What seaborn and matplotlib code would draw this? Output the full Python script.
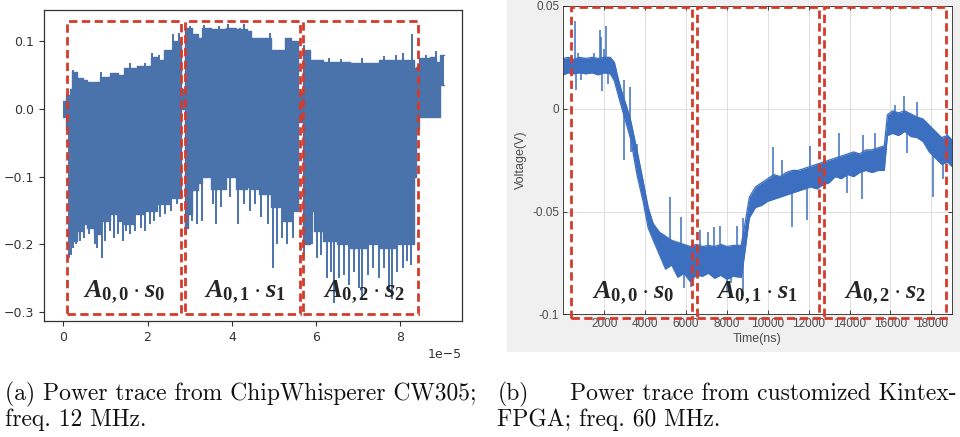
#!/usr/bin/env python3
"""
Two power traces with the three A_{0,j} * s_j regions marked
"""

import matplotlib
matplotlib.use("Agg")
import matplotlib.pyplot as plt
from matplotlib.patches import Rectangle
import seaborn as sns
import numpy as np

# ---- (a) ChipWhisperer CW305 trace, time in units of 1e-5 s ----
# envelope of the dense trace (step-wise)
a_t = [0.00, 0.06, 0.15, 0.20, 0.32, 0.48, 0.56, 0.72, 0.88, 1.12, 1.30, 1.44, 1.67,
       1.75, 1.91, 2.07, 2.22, 2.39, 2.54, 2.62, 2.79, 2.89, 2.95, 3.06, 3.20, 3.30,
       3.50, 3.85, 4.10, 4.35, 4.45, 4.65, 4.93, 5.20, 5.25, 5.40, 5.58, 5.68, 5.85,
       5.95, 6.17, 6.50, 6.80, 7.20, 7.50, 7.90, 8.20, 8.32, 8.38, 8.44, 8.70, 8.85,
       8.95, 9.03]
a_lo = [-0.012, -0.030, -0.190, -0.195, -0.180, -0.170, -0.175, -0.185, -0.165, -0.155,
        -0.165, -0.170, -0.155, -0.155, -0.150, -0.150, -0.140, -0.140, -0.132, -0.132,
        0.000, -0.175, -0.155, -0.120, -0.110, -0.100, -0.118, -0.100, -0.118, -0.115,
        -0.118, -0.125, -0.145, -0.165, -0.165, -0.150, -0.020, -0.200, -0.150, -0.180,
        -0.195, -0.200, -0.205, -0.200, -0.205, -0.200, -0.200, -0.100, -0.030, -0.012,
        -0.012, -0.012, 0.035, 0.035]
a_hi = [0.012, 0.020, 0.030, 0.055, 0.045, 0.043, 0.040, 0.040, 0.047, 0.053, 0.050,
        0.060, 0.060, 0.063, 0.063, 0.077, 0.072, 0.087, 0.087, 0.100, 0.030, 0.119,
        0.119, 0.110, 0.104, 0.120, 0.118, 0.120, 0.118, 0.115, 0.105, 0.105, 0.087,
        0.087, 0.104, 0.100, 0.025, 0.087, 0.072, 0.072, 0.070, 0.070, 0.068, 0.068,
        0.072, 0.072, 0.072, 0.060, 0.062, 0.075, 0.077, 0.070, 0.080, 0.080]
# isolated spikes poking out of the envelope
a_spike_t = [0.14, 0.18, 0.22, 0.30, 0.40, 0.50, 0.62, 0.75, 0.80, 0.92, 1.00, 1.10,
             1.20, 1.30, 1.42, 1.50, 1.58, 1.70, 1.85, 1.95, 2.05, 2.15, 2.30, 2.42,
             2.55, 2.70,
             2.92, 3.05, 3.18, 3.28, 3.55, 3.62, 3.75, 3.95, 4.15, 4.30, 4.42, 4.55,
             4.70, 4.85, 4.97, 5.08, 5.20, 5.30, 5.45,
             5.72, 5.90, 6.02, 6.12, 6.25, 6.35, 6.42, 6.55, 6.65, 6.78, 6.90, 7.02,
             7.10, 7.22, 7.35, 7.48, 7.62, 7.72, 7.80, 7.92, 8.05, 8.15, 8.25,
             0.22, 0.90, 1.58, 1.95, 2.10, 2.28, 2.60, 2.75, 3.00, 3.35, 3.70, 3.90,
             4.20, 4.30, 4.90, 5.40, 5.72, 6.30, 6.60, 7.10, 7.60, 7.90, 8.05, 8.28,
             8.60, 8.85]
a_spike_v = [-0.220, -0.215, -0.205, -0.200, -0.195, -0.190, -0.185, -0.200, -0.205,
             -0.220, -0.195, -0.180, -0.190, -0.185, -0.195, -0.180, -0.185, -0.180,
             -0.175, -0.180, -0.170, -0.165, -0.160, -0.155, -0.150, -0.140,
             -0.185, -0.165, -0.170, -0.165, -0.140, -0.170, -0.145, -0.130, -0.170,
             -0.140, -0.150, -0.140, -0.160, -0.170, -0.235, -0.200, -0.190, -0.200,
             -0.190,
             -0.215, -0.200, -0.220, -0.215, -0.250, -0.240, -0.287, -0.250, -0.245,
             -0.260, -0.240, -0.265, -0.280, -0.245, -0.235, -0.250, -0.235, -0.270,
             -0.280, -0.240, -0.235, -0.225, -0.230,
             0.058, 0.055, 0.068, 0.068, 0.083, 0.080, 0.110, 0.112, 0.123, 0.124,
             0.122, 0.125, 0.120, 0.125, 0.112, 0.105, 0.095, 0.075, 0.074, 0.075,
             0.078, 0.080, 0.082, 0.110, 0.080, 0.085]
a_regions = [(0.08, 2.79), (2.89, 5.62), (5.68, 8.42)]   # x range, 1e-5 s
a_box_y = (-0.303, 0.130)

# ---- (b) Kintex FPGA trace, time in ns, voltage in V ----
b_t = [0, 250, 500, 800, 1100, 1400, 1700, 2000, 2300, 2500, 2700, 2900, 3100, 3300,
       3600, 3900, 4150, 4400, 4700, 5000, 5300, 5600, 5900, 6200, 6500, 6800, 7100,
       7400, 7700, 8000, 8300, 8700, 8850, 9100, 9400, 9700, 10000, 10300, 10600,
       10900, 11200, 11500, 11800, 12100, 12400, 12700, 13000, 13300, 13600, 13900,
       14200, 14500, 14800, 15100, 15400, 15700, 15850, 16100, 16400, 16700, 17000,
       17300, 17600, 17900, 18200, 18500, 18800, 19000]
b_lo = [0.0165, 0.0175, 0.0170, 0.0175, 0.0170, 0.0175, 0.0165, 0.0175, 0.0170, 0.0135,
        0.0060, -0.0010, -0.0080, -0.0150, -0.0320, -0.0450, -0.0580, -0.0640, -0.0710,
        -0.0780, -0.0760, -0.0820, -0.0800, -0.0840, -0.0810, -0.0815, -0.0800, -0.0825,
        -0.0810, -0.0830, -0.0815, -0.0820, -0.0720, -0.0530, -0.0480, -0.0470, -0.0450,
        -0.0440, -0.0430, -0.0420, -0.0410, -0.0400, -0.0390, -0.0380, -0.0390, -0.0370,
        -0.0360, -0.0330, -0.0340, -0.0320, -0.0330, -0.0310, -0.0300, -0.0310, -0.0300,
        -0.0300, -0.0130, -0.0120, -0.0130, -0.0110, -0.0135, -0.0140, -0.0160, -0.0210,
        -0.0240, -0.0270, -0.0260, -0.0280]
b_hi = [0.0245, 0.0250, 0.0240, 0.0250, 0.0245, 0.0250, 0.0245, 0.0250, 0.0250, 0.0225,
        0.0140, 0.0070, 0.0010, -0.0060, -0.0200, -0.0350, -0.0480, -0.0560, -0.0600,
        -0.0620, -0.0640, -0.0650, -0.0660, -0.0670, -0.0660, -0.0670, -0.0665, -0.0670,
        -0.0660, -0.0670, -0.0665, -0.0665, -0.0580, -0.0430, -0.0380, -0.0360, -0.0340,
        -0.0320, -0.0330, -0.0310, -0.0300, -0.0300, -0.0290, -0.0280, -0.0270, -0.0260,
        -0.0250, -0.0240, -0.0230, -0.0220, -0.0210, -0.0220, -0.0200, -0.0200, -0.0190,
        -0.0180, -0.0030, -0.0010, -0.0020, -0.0010, -0.0025, -0.0040, -0.0050, -0.0080,
        -0.0110, -0.0140, -0.0130, -0.0150]
b_spike_t = [584, 600, 700, 850, 1500, 1780, 1830, 1880, 2000, 2100, 2200, 2950, 2980,
             3270, 3300, 3600, 5223, 5767, 5900, 6250, 6700, 7100, 7350, 7650, 8000,
             8200, 8480, 8780, 8800, 10250, 10700, 11200, 11900, 12050, 13500, 13900,
             14600, 14650, 15250, 16200, 16650, 16800, 17300, 18100, 18580, 18750]
b_spike_base = [0.021, 0.021, 0.021, 0.021, 0.021, 0.021, 0.021, 0.021, 0.021, 0.021,
                0.021, 0.003, 0.003, -0.010, -0.010, -0.026, -0.071, -0.073, -0.073,
                -0.075, -0.074, -0.074, -0.074, -0.074, -0.074, -0.074, -0.074, -0.074,
                -0.074, -0.038, -0.037, -0.036, -0.034, -0.033, -0.029, -0.027, -0.025,
                -0.025, -0.025, -0.007, -0.007, -0.007, -0.009, -0.015, -0.020, -0.020]
b_spike_tip = [0.0427, 0.009, 0.027, 0.014, 0.027, 0.0383, 0.035, 0.0085, 0.029, 0.0405,
               0.012, 0.014, -0.025, 0.0106, -0.021, -0.017, -0.0428, -0.0525, -0.087,
               -0.0866, -0.059, -0.060, -0.0575, -0.057, -0.089, -0.085, -0.057, -0.091,
               -0.053, -0.0185, -0.025, -0.0574, -0.054, -0.018, -0.012, -0.041, -0.044,
               -0.013, -0.012, 0.002, 0.006, -0.0216, 0.0035, -0.0428, -0.034, -0.010]
b_regions = [(374, 6312), (6556, 12513), (12757, 18734)]
b_box_y = (-0.1018, 0.0497)

labels = [r'$A_{0,0}\cdot s_0$', r'$A_{0,1}\cdot s_1$', r'$A_{0,2}\cdot s_2$']
a_label_x = [1.44, 4.31, 7.13]
b_label_x = [3392, 9457, 15707]

BLUE_A = '#4a72ab'
BLUE_B = '#3d6fc0'
RED = '#d23c2c'

sns.set_theme(style='white')
plt.rcParams['font.family'] = ['DejaVu Sans']
plt.rcParams['mathtext.fontset'] = 'custom'
plt.rcParams['mathtext.it'] = 'Liberation Serif:italic:bold'
plt.rcParams['mathtext.rm'] = 'Liberation Serif:bold'
plt.rcParams['mathtext.bf'] = 'Liberation Serif:bold'

fig = plt.figure(figsize=(9.6, 4.37), dpi=100)
fig.patch.set_facecolor('white')
fig.patches.append(Rectangle((0.5278, 0.1952), 0.4722, 0.8048, transform=fig.transFigure,
                             facecolor='#f0f0f0', edgecolor='none', zorder=-5))

# ---------------- panel (a) ----------------
ax = fig.add_axes([0.0458, 0.2654, 0.4354, 0.7117])
ta = np.array(a_t) * 1e-5
ax.fill_between(ta, a_lo, a_hi, step='post', color=BLUE_A, lw=0)
sns.lineplot(x=ta, y=a_hi, drawstyle='steps-post', color=BLUE_A, lw=1,
             estimator=None, sort=False, ax=ax)
sns.lineplot(x=ta, y=a_lo, drawstyle='steps-post', color=BLUE_A, lw=1,
             estimator=None, sort=False, ax=ax)
ax.vlines(np.array(a_spike_t) * 1e-5, 0, a_spike_v, color=BLUE_A, lw=1.4)

for (x0, x1), lab, lx in zip(a_regions, labels, a_label_x):
    ax.add_patch(Rectangle((x0 * 1e-5, a_box_y[0]), (x1 - x0) * 1e-5, a_box_y[1] - a_box_y[0],
                           fill=False, ls=(0, (3, 1.6)), ec=RED, lw=2, zorder=5))
    ax.text(lx * 1e-5, -0.27, lab, ha='center', va='center', fontsize=19, zorder=6)

ax.set_xlim(-0.458e-5, 9.46e-5)
ax.set_ylim(-0.313, 0.146)
ax.set_xticks(np.array([0, 2, 4, 6, 8]) * 1e-5)
ax.set_yticks([-0.3, -0.2, -0.1, 0.0, 0.1])
for s in ax.spines.values():
    s.set_visible(True)
    s.set_color('#333333')
    s.set_linewidth(0.9)
ax.tick_params(direction='out', length=3.5, width=0.8, colors='#333333',
               labelsize=9, bottom=True, left=True)
ax.xaxis.get_offset_text().set_fontsize(9)
ax.xaxis.get_offset_text().set_color('#333333')

# ---------------- panel (b) ----------------
bx = fig.add_axes([0.5868, 0.2808, 0.4046, 0.7055])
bx.set_facecolor('white')
bx.set_axisbelow(True)
bx.grid(True, color='#dedede', lw=0.7)
bx.fill_between(b_t, b_lo, b_hi, color=BLUE_B, lw=0, zorder=2)
sns.lineplot(x=b_t, y=b_hi, color=BLUE_B, lw=0.9, estimator=None, sort=False, ax=bx, zorder=2)
sns.lineplot(x=b_t, y=b_lo, color=BLUE_B, lw=0.9, estimator=None, sort=False, ax=bx, zorder=2)
bx.vlines(b_spike_t, b_spike_base, b_spike_tip, color=BLUE_B, lw=1.1, zorder=2)

for (x0, x1), lab, lx in zip(b_regions, labels, b_label_x):
    bx.add_patch(Rectangle((x0, b_box_y[0]), x1 - x0, b_box_y[1] - b_box_y[0],
                           fill=False, ls=(0, (3, 1.6)), ec=RED, lw=2, zorder=5,
                           clip_on=False))
    bx.text(lx, -0.0896, lab, ha='center', va='center', fontsize=19, zorder=6)

bx.set_xlim(0, 19000)
bx.set_ylim(-0.1, 0.05)
bx.set_xticks(range(2000, 18001, 2000))
bx.set_yticks([-0.1, -0.05, 0, 0.05])
bx.set_yticklabels(['-0.1', '-0.05', '0', '0.05'])
for lab in bx.get_xticklabels() + bx.get_yticklabels():
    lab.set_family('Liberation Sans')
for s in bx.spines.values():
    s.set_visible(True)
    s.set_color('#262626')
    s.set_linewidth(0.6)
bx.tick_params(direction='in', length=3, width=0.6, color='#262626', labelcolor='#4d4d4d',
               labelsize=8.5, bottom=True, left=True, top=True, right=True, pad=3)
bx.set_xlabel('Time(ns)', family='Liberation Sans', fontsize=9, color='#4d4d4d', labelpad=2)
bx.set_ylabel('Voltage(V)', family='Liberation Sans', fontsize=9, color='#4d4d4d', labelpad=4)

# ---------------- captions ----------------
cap = dict(family='cmr10', fontsize=17, va='center', color='#111111')
fig.text(0.005, 0.098, '(a) Power trace from ChipWhisperer CW305;', **cap)
fig.text(0.005, 0.039, 'freq. 12 MHz.', **cap)
fig.text(0.518, 0.098, '(b)', **cap)
fig.text(0.997, 0.098, 'Power trace from customized Kintex-', ha='right', **cap)
fig.text(0.518, 0.039, 'FPGA; freq. 60 MHz.', **cap)

fig.savefig('out.png', dpi=100, facecolor='white')
plt.close(fig)
